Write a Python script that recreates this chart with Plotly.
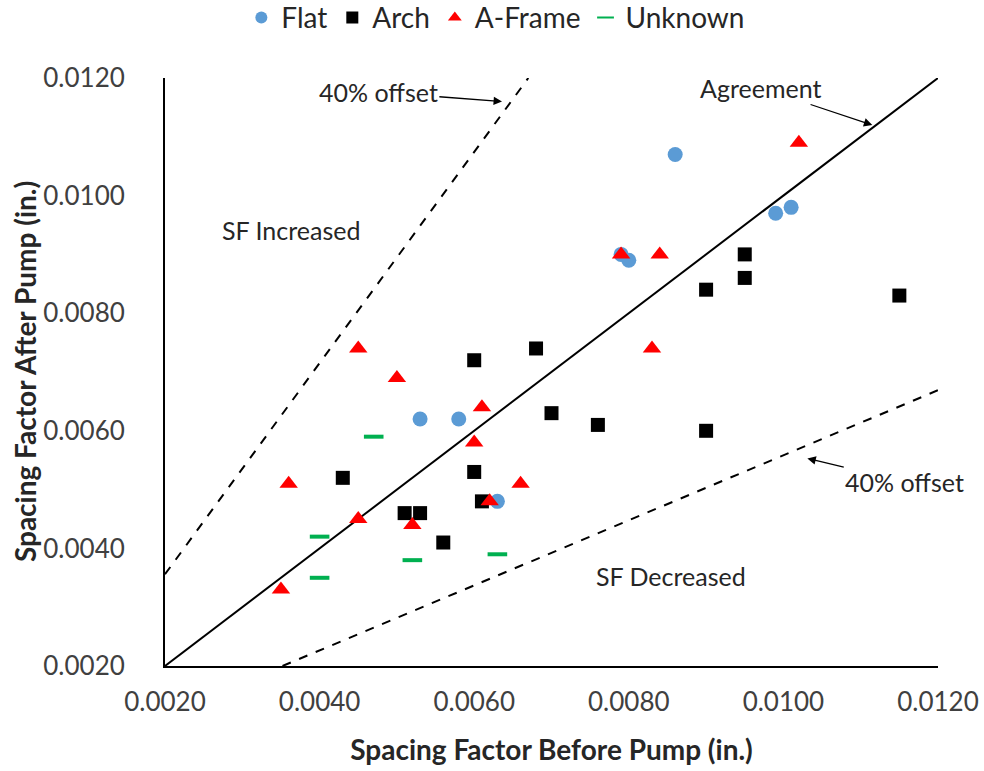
import plotly.graph_objects as go

# Data (spacing factor before / after pump, in.)
flat_x = [0.0086, 0.0099, 0.0101, 0.0079, 0.0080, 0.0053, 0.0058, 0.0063]
flat_y = [0.0107, 0.0097, 0.0098, 0.0090, 0.0089, 0.0062, 0.0062, 0.0048]

arch_x = [0.0095, 0.0095, 0.0090, 0.0115, 0.0076, 0.0090, 0.0060, 0.0068, 0.0070,
          0.0043, 0.0060, 0.0061, 0.0051, 0.0053, 0.0056]
arch_y = [0.0090, 0.0086, 0.0084, 0.0083, 0.0061, 0.0060, 0.0072, 0.0074, 0.0063,
          0.0052, 0.0053, 0.0048, 0.0046, 0.0046, 0.0041]

aframe_x = [0.0102, 0.0079, 0.0084, 0.0083, 0.0045, 0.0050, 0.0061, 0.0060, 0.0036,
            0.0066, 0.0062, 0.0045, 0.0052, 0.0035]
aframe_y = [0.0109, 0.0090, 0.0090, 0.0074, 0.0074, 0.0069, 0.0064, 0.0058, 0.0051,
            0.0051, 0.0048, 0.0045, 0.0044, 0.0033]

unknown_x = [0.0047, 0.0040, 0.0063, 0.0052, 0.0040]
unknown_y = [0.0059, 0.0042, 0.0039, 0.0038, 0.0035]

# Reference lines
agree_x = [0.0020, 0.0120]
agree_y = [0.0020, 0.0120]
upper_x = [0.0020, 0.0067]
upper_y = [0.00356, 0.0120]
lower_x = [0.00352, 0.0120]
lower_y = [0.0020, 0.00669]

tick_vals = [0.002, 0.004, 0.006, 0.008, 0.010, 0.012]
tick_text = ["0.0020", "0.0040", "0.0060", "0.0080", "0.0100", "0.0120"]

FONT = "Lato"

fig = go.Figure()

fig.add_trace(go.Scatter(x=upper_x, y=upper_y, mode="lines", showlegend=False,
                         line=dict(color="black", width=2, dash="dash"), hoverinfo="skip"))
fig.add_trace(go.Scatter(x=lower_x, y=lower_y, mode="lines", showlegend=False,
                         line=dict(color="black", width=2, dash="dash"), hoverinfo="skip"))
fig.add_trace(go.Scatter(x=agree_x, y=agree_y, mode="lines", showlegend=False,
                         line=dict(color="black", width=2), hoverinfo="skip"))

fig.add_trace(go.Scatter(x=flat_x, y=flat_y, mode="markers", name="Flat",
                         marker=dict(symbol="circle", size=15, color="#5B9BD5")))
fig.add_trace(go.Scatter(x=arch_x, y=arch_y, mode="markers", name="Arch",
                         marker=dict(symbol="square", size=14, color="black")))
fig.add_trace(go.Scatter(x=aframe_x, y=aframe_y, mode="markers", name="A-Frame",
                         marker=dict(symbol="triangle-up", size=16, color="#FF0000")))
fig.add_trace(go.Scatter(x=unknown_x, y=unknown_y, mode="markers", name="Unknown",
                         marker=dict(symbol="line-ew", size=14,
                                     line=dict(color="#00B050", width=4))))

ann_font = dict(family=FONT, size=25, color="#262626")
fig.add_annotation(x=0.00636, y=0.0116, ax=0.00476, ay=0.01176, axref="x", ayref="y",
                   text="40% offset", showarrow=True, arrowhead=2, arrowsize=1.3,
                   arrowwidth=1.3, arrowcolor="black", font=ann_font)
fig.add_annotation(x=0.01115, y=0.0112, ax=0.00971, ay=0.01183, axref="x", ayref="y",
                   text="Agreement", showarrow=True, arrowhead=2, arrowsize=1.3,
                   arrowwidth=1.3, arrowcolor="black", font=ann_font)
fig.add_annotation(x=0.01031, y=0.00553, ax=0.01157, ay=0.00513, axref="x", ayref="y",
                   text="40% offset", showarrow=True, arrowhead=2, arrowsize=1.3,
                   arrowwidth=1.3, arrowcolor="black", font=ann_font)
fig.add_annotation(x=0.00363, y=0.00941, text="SF Increased", showarrow=False, font=ann_font)
fig.add_annotation(x=0.00854, y=0.00353, text="SF Decreased", showarrow=False, font=ann_font)

# Y-axis title as rotated annotation for precise placement
fig.add_annotation(xref="paper", yref="paper", x=-0.181, y=0.5, xanchor="center",
                   yanchor="middle", textangle=-90, showarrow=False,
                   text="<b>Spacing Factor After Pump (in.)</b>",
                   font=dict(family=FONT, size=28, color="#262626"))

fig.update_layout(
    width=984, height=771,
    margin=dict(l=165, r=46, t=78, b=105),
    paper_bgcolor="white", plot_bgcolor="white",
    font=dict(family=FONT, size=22, color="#404040"),
    legend=dict(orientation="h", x=0.428, xanchor="center", xref="paper",
                y=0.977, yref="container", yanchor="middle",
                font=dict(family=FONT, size=28, color="#262626"),
                itemsizing="constant", tracegroupgap=0),
)
fig.update_xaxes(range=[0.002, 0.012], tickvals=tick_vals, ticktext=tick_text,
                 showgrid=False, zeroline=False, showline=True, linecolor="black",
                 linewidth=2, ticks="", ticklabelstandoff=12, automargin=False,
                 tickfont=dict(family=FONT, size=26, color="#404040"),
                 title=dict(text="<b>Spacing Factor Before Pump (in.)</b>",
                            font=dict(family=FONT, size=28, color="#262626"), standoff=24))
fig.update_yaxes(range=[0.002, 0.012], tickvals=tick_vals, ticktext=tick_text,
                 showgrid=False, zeroline=False, showline=True, linecolor="black",
                 linewidth=2, ticks="", ticklabelstandoff=33, automargin=False,
                 tickfont=dict(family=FONT, size=26, color="#404040"))

fig.write_html("out.html")
